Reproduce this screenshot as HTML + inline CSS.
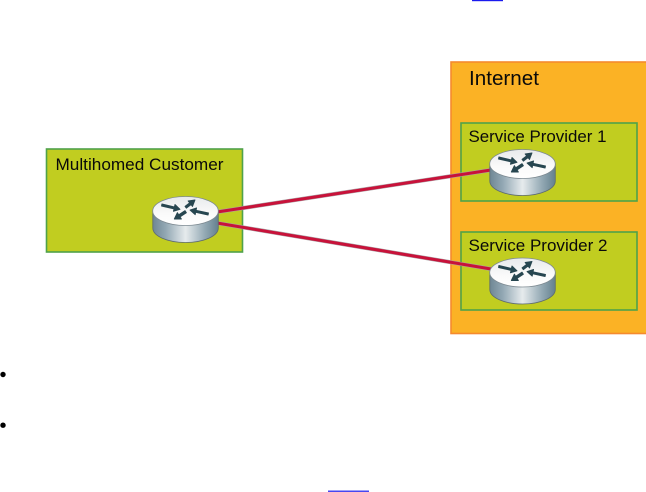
<!DOCTYPE html>
<html>
<head>
<meta charset="utf-8">
<style>
html,body{margin:0;padding:0;background:#fff;width:646px;height:492px;overflow:hidden}
svg{display:block}
text{font-family:"Liberation Sans",sans-serif;fill:#0a0a0a}
</style>
</head>
<body>
<svg width="646" height="492" viewBox="0 0 646 492" xmlns="http://www.w3.org/2000/svg">
<defs>
<linearGradient id="side" x1="0" x2="1" y1="0" y2="0">
<stop offset="0" stop-color="#6f8794"/>
<stop offset="0.2" stop-color="#93a8b4"/>
<stop offset="0.5" stop-color="#e6ebed"/>
<stop offset="0.8" stop-color="#92a8b3"/>
<stop offset="1" stop-color="#64808e"/>
</linearGradient>
<linearGradient id="top" x1="0" x2="0" y1="0" y2="1">
<stop offset="0" stop-color="#e8eaec"/>
<stop offset="0.6" stop-color="#fafafa"/>
<stop offset="1" stop-color="#ffffff"/>
</linearGradient>
<g id="router">
<path d="M0.5 15 V32 C0.5 40 15 46.5 33.2 46.5 C51.5 46.5 66 40 66 32 V15 Z" fill="url(#side)" stroke="#5d6a72" stroke-width="0.8"/>
<ellipse cx="33.2" cy="15" rx="32.8" ry="14.5" fill="url(#top)" stroke="#7d8a92" stroke-width="0.8"/>
<g fill="#274650" stroke="#274650" stroke-width="0.9" stroke-linejoin="round">
<polygon points="9.6,8 22.1,10.9 22.7,8.5 27.7,13.3 21.1,15.3 21.7,12.9 9.2,10"/>
<polygon points="32.7,10.4 37.3,6.8 35.8,5 42.7,4 40.2,10.5 38.7,8.6 34.1,12.2"/>
<polygon points="56.2,17 43.8,14.3 44.3,11.9 37.7,14 42.9,18.7 43.4,16.3 55.8,19"/>
<polygon points="32.7,14.6 26.4,18.7 25.1,16.6 22,23 29.1,23 27.8,20.9 34.1,16.8"/>
</g>
</g>
</defs>

<rect x="472" y="0" width="31" height="1.2" fill="#1a1aee"/>
<rect x="328" y="490.6" width="41" height="1.2" fill="#1a1aee"/>
<circle cx="3" cy="374.5" r="2.7" fill="#000"/>
<circle cx="3" cy="425.2" r="2.7" fill="#000"/>

<rect x="451" y="62" width="196" height="271.5" fill="#fbb225" stroke="#f58a2e" stroke-width="1.6"/>
<text x="469" y="85" font-size="20.5" textLength="70" lengthAdjust="spacingAndGlyphs">Internet</text>

<rect x="461" y="123" width="176" height="78" fill="#c1cd20" stroke="#4fa24a" stroke-width="1.6"/>
<text x="468.5" y="142" font-size="17" textLength="138" lengthAdjust="spacingAndGlyphs">Service Provider 1</text>

<rect x="461" y="232" width="176" height="78" fill="#c1cd20" stroke="#4fa24a" stroke-width="1.6"/>
<text x="468.5" y="251" font-size="17" textLength="139" lengthAdjust="spacingAndGlyphs">Service Provider 2</text>

<rect x="46.5" y="149" width="196" height="103" fill="#c1cd20" stroke="#4fa24a" stroke-width="1.6"/>
<text x="55.5" y="170" font-size="17" textLength="168" lengthAdjust="spacingAndGlyphs">Multihomed Customer</text>

<g fill="none" stroke-linecap="round">
<path d="M217 212 L491 170" stroke="#a9a3a6" stroke-width="4"/>
<path d="M217 223 L491 269" stroke="#a9a3a6" stroke-width="4"/>
<path d="M217 212 L491 170" stroke="#c8123a" stroke-width="3"/>
<path d="M217 223 L491 269" stroke="#c8123a" stroke-width="3"/>
</g>

<use href="#router" x="152.3" y="196"/>
<use href="#router" x="489.3" y="149"/>
<use href="#router" x="489.3" y="257.5"/>
</svg>
</body>
</html>
